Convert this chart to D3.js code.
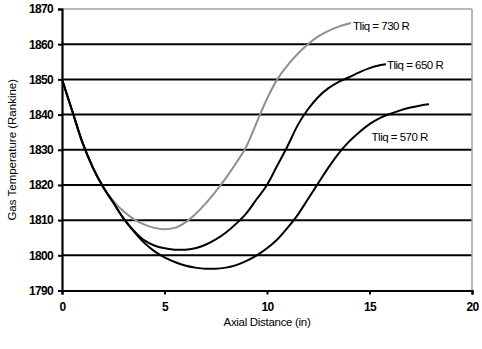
<!DOCTYPE html>
<html><head><meta charset="utf-8">
<script src="https://cdn.jsdelivr.net/npm/d3@7"></script>
<style>body{margin:0;background:#fff}svg{display:block}</style>
</head><body>
<svg id="c" width="482" height="349"></svg>
<script>
const xTicks = [0, 5, 10, 15, 20];
const yTicks = [1790, 1800, 1810, 1820, 1830, 1840, 1850, 1860, 1870];
const labels = ["Tliq = 730 R", "Tliq = 650 R", "Tliq = 570 R"];

const s730x = [0,0.5,1,1.5,2,2.5,3,3.5,4,4.5,5,5.5,6,6.5,7,7.5,8,8.5,9,9.5,10,10.5,11,11.5,12,12.5,13,13.5,14.1];
const s730y = [1850,1841,1832,1825,1819.5,1815.5,1812.5,1810.3,1808.8,1807.8,1807.4,1807.8,1809.3,1811.7,1814.7,1818.2,1822,1826.3,1831,1837.8,1844.5,1850,1854,1857.3,1860,1862.2,1863.8,1865,1866];
const s650x = [0,0.5,1,1.5,2,2.5,3,3.5,4,4.5,5,5.5,6,6.5,7,7.5,8,8.5,9,9.5,10,10.5,11,11.5,12,12.5,13,13.5,14,14.5,15,15.5,15.8];
const s650y = [1850,1841,1832,1825,1819.5,1815,1810.5,1807,1804.3,1802.8,1802,1801.6,1801.6,1802,1803,1804.5,1806.5,1809,1812,1816,1820,1825.5,1831,1837,1841.5,1845,1847.5,1849.3,1850.6,1852,1853.2,1854,1854.3];
const s570x = [0,0.5,1,1.5,2,2.5,3,3.5,4,4.5,5,5.5,6,6.5,7,7.5,8,8.5,9,9.5,10,10.5,11,11.5,12,12.5,13,13.5,14,14.5,15,15.5,16,16.5,17,17.5,17.9];
const s570y = [1850,1841,1832,1825,1819.5,1815,1810.5,1806.8,1803.6,1801.2,1799.4,1798.1,1797.1,1796.5,1796.2,1796.2,1796.5,1797.2,1798.4,1800,1802,1804.5,1807.8,1811.5,1816,1820.5,1825,1829,1832.3,1835,1837.3,1839,1840.2,1841.2,1842,1842.6,1842.9];

const svg = d3.select("#c");
const L = 62, R = 472, T = 9, B = 290.5;
const x = d3.scaleLinear().domain([0, 20]).range([L, R]);
const y = d3.scaleLinear().domain([1790, 1870]).range([B, T]);

// gridlines
svg.append("g").selectAll("line").data(yTicks.filter(v => v > 1790 && v < 1870)).join("line")
  .attr("x1", L).attr("x2", R).attr("y1", d => y(d)).attr("y2", d => y(d))
  .attr("stroke", "#000").attr("stroke-width", 2);
// top & right border (gray)
svg.append("line").attr("x1", L).attr("x2", R).attr("y1", T).attr("y2", T)
  .attr("stroke", "#a0a0a0").attr("stroke-width", 1.5);
svg.append("line").attr("x1", R).attr("x2", R).attr("y1", T).attr("y2", B)
  .attr("stroke", "#a0a0a0").attr("stroke-width", 1.5);

// axes
const fmt = d3.format("d");
const xAxis = d3.axisBottom(x).tickValues(xTicks).tickFormat(fmt).tickSize(4).tickPadding(8);
const yAxis = d3.axisLeft(y).tickValues(yTicks).tickFormat(fmt).tickSize(4).tickPadding(5);
const gx = svg.append("g").attr("transform", `translate(0,${B})`).call(xAxis);
const gy = svg.append("g").attr("transform", `translate(${L},0)`).call(yAxis);
[gx, gy].forEach(g => {
  g.attr("font-family", "Liberation Sans, Arial, sans-serif").attr("font-size", 12);
  g.select(".domain").attr("stroke", "#000").attr("stroke-width", 2.2);
  g.selectAll(".tick line").attr("stroke", "#000").attr("stroke-width", 2);
  g.selectAll(".tick text").attr("fill", "#000")
    .style("font-size", "12px").style("font-weight", "bold").style("letter-spacing", "-0.7px");
});

// series
const line = d3.line().x(d => x(d[0])).y(d => y(d[1])).curve(d3.curveMonotoneX);
const series = [
  {xs: s730x, ys: s730y, color: "#8f8f8f"},
  {xs: s650x, ys: s650y, color: "#000"},
  {xs: s570x, ys: s570y, color: "#000"}
];
series.forEach(s => {
  svg.append("path").datum(s.xs.map((v, i) => [v, s.ys[i]]))
    .attr("d", line).attr("fill", "none").attr("stroke", s.color).attr("stroke-width", 2);
});

// labels
const lpos = [[14.2, 1865.3], [15.85, 1854], [15.1, 1833.6]];
labels.forEach((t, i) => {
  svg.append("text").attr("x", x(lpos[i][0])).attr("y", y(lpos[i][1]))
    .attr("dy", "0.35em").attr("font-family", "Liberation Sans, Arial, sans-serif")
    .attr("font-size", 11.5).attr("letter-spacing", "-0.5px").attr("fill", "#000").text(t);
});

// axis titles
svg.append("text").attr("x", (L + R) / 2).attr("y", 326).attr("text-anchor", "middle")
  .attr("font-family", "Liberation Sans, Arial, sans-serif").attr("font-size", 11.5)
  .attr("letter-spacing", "-0.3px").text("Axial Distance (in)");
svg.append("text").attr("transform", `translate(16,${(T + B) / 2}) rotate(-90)`)
  .attr("text-anchor", "middle").attr("font-family", "Liberation Sans, Arial, sans-serif")
  .attr("font-size", 11.5).text("Gas Temperature (Rankine)");
</script>
</body></html>
